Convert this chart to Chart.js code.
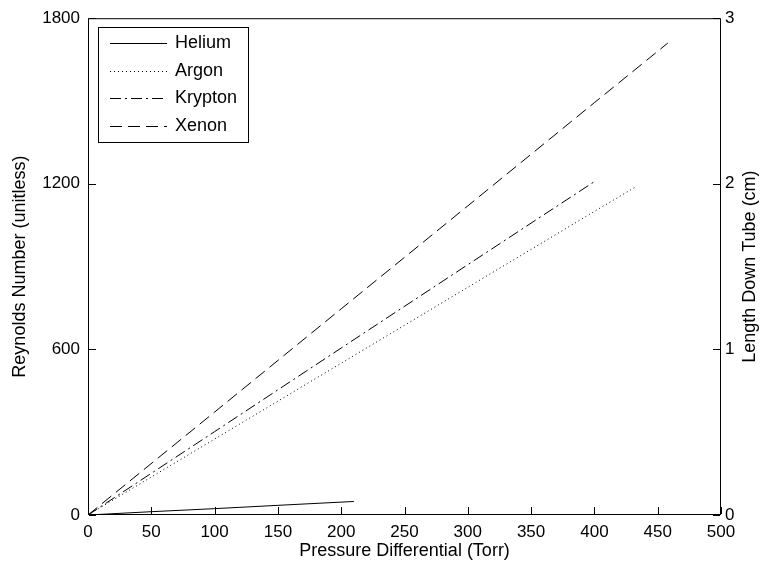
<!DOCTYPE html>
<html>
<head>
<meta charset="utf-8">
<script src="https://cdn.jsdelivr.net/npm/chart.js@4/dist/chart.umd.min.js"></script>
<style>
  body { margin: 0; background: #fff; }
  canvas { display: block; }
</style>
</head>
<body>
<canvas id="myChart" width="762" height="573"></canvas>
<script>
// data
const seriesNames = ['Helium', 'Argon', 'Krypton', 'Xenon'];

const heliumP = [0, 50, 100, 150, 210];
const heliumRe = [0, 12, 23, 35, 49];

const argonP = [0, 100, 200, 300, 400, 433];
const argonRe = [0, 275, 550, 825, 1100, 1190];

const kryptonP = [0, 100, 200, 300, 401];
const kryptonRe = [0, 302, 605, 907, 1211];

const xenonP = [0, 100, 200, 300, 400, 458];
const xenonRe = [0, 373, 747, 1120, 1494, 1710];

const xTicks = [0, 50, 100, 150, 200, 250, 300, 350, 400, 450, 500];
const reTicks = [0, 600, 1200, 1800];
const lengthTicks = [0, 1, 2, 3];

const FONT = "'Liberation Sans', Arial, sans-serif";

function points(px, py) {
    return px.map((p, i) => ({ x: p, y: py[i] }));
}

function fixedTicks(values) {
    return scale => { scale.ticks = values.map(v => ({ value: v })); };
}

// box around the plot + ticks drawn inward, matlab style
const framePlugin = {
    id: 'frame',
    afterDraw(chart) {
        const { ctx, chartArea: a, scales } = chart;
        const len = 7;
        ctx.save();
        ctx.strokeStyle = '#000';
        ctx.lineWidth = 1;
        ctx.setLineDash([]);
        ctx.strokeRect(a.left + 0.5, a.top + 0.5, a.right - a.left - 1, a.bottom - a.top - 1);

        ctx.beginPath();
        xTicks.forEach(v => {
            const px = Math.round(scales.x.getPixelForValue(v)) + 0.5;
            ctx.moveTo(px, a.bottom - 1);
            ctx.lineTo(px, a.bottom - 1 - len);
        });
        reTicks.forEach(v => {
            const py = Math.round(scales.y.getPixelForValue(v)) + 0.5;
            ctx.moveTo(a.left + 1, py);
            ctx.lineTo(a.left + 1 + len, py);
        });
        lengthTicks.forEach(v => {
            const py = Math.round(scales.y2.getPixelForValue(v)) + 0.5;
            ctx.moveTo(a.right - 1, py);
            ctx.lineTo(a.right - 1 - len, py);
        });
        ctx.stroke();

        // right axis title reads bottom to top
        ctx.fillStyle = '#000';
        ctx.font = '18px ' + FONT;
        ctx.textAlign = 'center';
        ctx.textBaseline = 'middle';
        ctx.save();
        ctx.translate(750, (a.top + a.bottom) / 2);
        ctx.rotate(-Math.PI / 2);
        ctx.fillText('Length Down Tube (cm)', 0, 0);
        ctx.restore();

        // legend box
        const box = { x: 98, y: 27, w: 150, h: 115 };
        ctx.fillStyle = '#fff';
        ctx.fillRect(box.x, box.y, box.w, box.h);
        ctx.strokeRect(box.x + 0.5, box.y + 0.5, box.w, box.h);
        ctx.textAlign = 'left';
        ctx.fillStyle = '#000';
        chart.data.datasets.forEach((ds, i) => {
            const y = Math.round(box.y + 16 + i * 27.5) + 0.5;
            ctx.setLineDash(ds.borderDash || []);
            ctx.beginPath();
            ctx.moveTo(110, y);
            ctx.lineTo(167, y);
            ctx.stroke();
            ctx.fillText(ds.label, 175, y);
        });
        ctx.restore();
    }
};

const ctx = document.getElementById('myChart').getContext('2d');

const myChart = new Chart(ctx, {
    type: 'line',
    data: {
        datasets: [{
            label: seriesNames[0],
            data: points(heliumP, heliumRe),
            borderDash: []
        }, {
            label: seriesNames[1],
            data: points(argonP, argonRe),
            borderDash: [1, 3]
        }, {
            label: seriesNames[2],
            data: points(kryptonP, kryptonRe),
            borderDash: [11, 4, 2, 4]
        }, {
            label: seriesNames[3],
            data: points(xenonP, xenonRe),
            borderDash: [12, 6]
        }]
    },
    options: {
        responsive: false,
        animation: false,
        devicePixelRatio: 1,
        layout: { padding: { top: 16, left: 0, right: 0, bottom: 0 } },
        elements: {
            line: { borderColor: '#000', borderWidth: 1, tension: 0, fill: false },
            point: { radius: 0 }
        },
        plugins: {
            legend: { display: false },
            tooltip: { enabled: false }
        },
        scales: {
            x: {
                type: 'linear',
                min: 0,
                max: 500,
                afterBuildTicks: fixedTicks(xTicks),
                afterFit: s => { s.height = 58; },
                grid: { display: false, drawTicks: false },
                border: { display: false },
                ticks: { color: '#000', font: { family: FONT, size: 17 }, padding: 7, maxRotation: 0, autoSkip: false,
                         callback: v => String(v) },
                title: {
                    display: true,
                    text: 'Pressure Differential (Torr)',
                    color: '#000',
                    font: { family: FONT, size: 18 },
                    padding: { top: 0, bottom: 11 }
                }
            },
            y: {
                position: 'left',
                min: 0,
                max: 1800,
                afterBuildTicks: fixedTicks(reTicks),
                afterFit: s => { s.width = 88; },
                grid: { display: false, drawTicks: false },
                border: { display: false },
                ticks: { color: '#000', font: { family: FONT, size: 17 }, padding: 8, callback: v => String(v) },
                title: {
                    display: true,
                    text: 'Reynolds Number (unitless)',
                    color: '#000',
                    font: { family: FONT, size: 18 },
                    padding: { top: 9, bottom: 0 }
                }
            },
            y2: {
                position: 'right',
                display: true,
                min: 0,
                max: 3,
                afterBuildTicks: fixedTicks(lengthTicks),
                afterFit: s => { s.width = 41; },
                grid: { display: false, drawTicks: false },
                border: { display: false },
                ticks: { color: '#000', font: { family: FONT, size: 17 }, padding: 4, callback: v => String(v) }
            }
        }
    },
    plugins: [framePlugin]
});
</script>
</body>
</html>
